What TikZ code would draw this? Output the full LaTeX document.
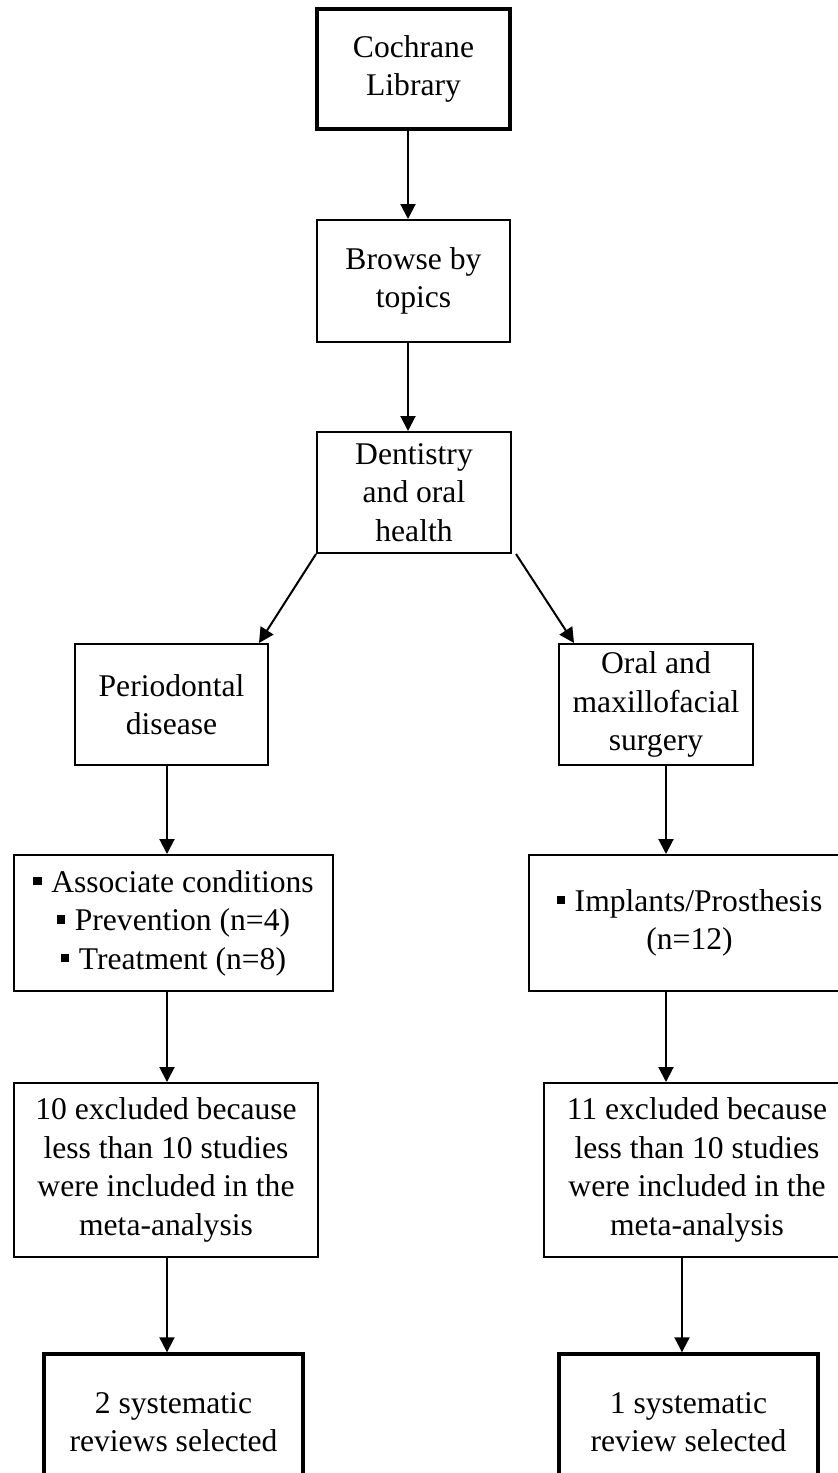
\documentclass[tikz,border=0pt]{standalone}
\usepackage{fontspec}
\setmainfont{Liberation Serif}
\usetikzlibrary{arrows.meta,positioning}
\newcommand{\sqb}{\raisebox{0.22em}{\rule{0.27em}{0.27em}}\hspace{0.3em}}
\tikzset{
  box/.style={draw=black,line width=1pt,align=center,inner sep=0pt,
    font=\fontsize{15.8}{19.25}\selectfont},
  final/.style={box,line width=1.7pt},
  flow/.style={-{Triangle[length=7.5pt,width=7.5pt]},line width=1pt,draw=black},
}
\begin{document}
\begin{tikzpicture}[x=0.5pt,y=-0.5pt]
  \useasboundingbox (0,0) rectangle (838,1473);
  \clip (0,0) rectangle (838,1473);
  % lanes for the vertical arrows
  \coordinate (mid) at (408,0);
  \coordinate (lft) at (167,0);
  \coordinate (rgtA) at (666,0);
  \coordinate (rgtB) at (682,0);
  % top column
  \node[final,minimum width=96.5pt,minimum height=60pt] (lib) at (413.5,69) {Cochrane\\Library};
  \node[box,minimum width=96.5pt,minimum height=61pt] (browse) at (413.5,281) {Browse by\\topics};
  \node[box,minimum width=97pt,minimum height=60.5pt] (dent) at (414,492.5) {Dentistry\\and oral\\health};
  % two branches
  \node[box,minimum width=96.5pt,minimum height=60.5pt] (perio) at (171.5,704.5) {Periodontal\\disease};
  \node[box,minimum width=97pt,minimum height=60.5pt] (oral) at (656,704.5) {Oral and\\maxillofacial\\surgery};
  \node[box,minimum width=159.5pt,minimum height=68pt] (llist) at (173.5,923)
    {\sqb Associate conditions\\\sqb Prevention (n=4)\\\sqb Treatment (n=8)};
  \node[box,minimum width=160.5pt,minimum height=68pt] (rlist) at (689.5,923)
    {\sqb Implants/Prosthesis\\(n=12)};
  \node[box,minimum width=152pt,minimum height=87pt] (lexcl) at (166,1170)
    {10 excluded because\\less than 10 studies\\were included in the\\meta-analysis};
  \node[box,minimum width=153pt,minimum height=87pt] (rexcl) at (697,1170)
    {11 excluded because\\less than 10 studies\\were included in the\\meta-analysis};
  \node[final,minimum width=129.5pt,minimum height=68pt] (lfin) at (173.5,1422) {2 systematic\\reviews selected};
  \node[final,minimum width=129.5pt,minimum height=68pt] (rfin) at (688.5,1422) {1 systematic\\review selected};
  % connectors
  \draw[flow] (lib.south -| mid) -- (browse.north -| mid);
  \draw[flow] (browse.south -| mid) -- (dent.north -| mid);
  \draw[flow] (dent.south west) -- ([xshift=-5pt]perio.north east);
  \draw[flow] ([xshift=2pt]dent.south east) -- ([xshift=8pt]oral.north west);
  \draw[flow] (perio.south -| lft) -- (llist.north -| lft);
  \draw[flow] (llist.south -| lft) -- (lexcl.north -| lft);
  \draw[flow] (lexcl.south -| lft) -- (lfin.north -| lft);
  \draw[flow] (oral.south -| rgtA) -- (rlist.north -| rgtA);
  \draw[flow] (rlist.south -| rgtA) -- (rexcl.north -| rgtA);
  \draw[flow] (rexcl.south -| rgtB) -- (rfin.north -| rgtB);
\end{tikzpicture}
\end{document}
